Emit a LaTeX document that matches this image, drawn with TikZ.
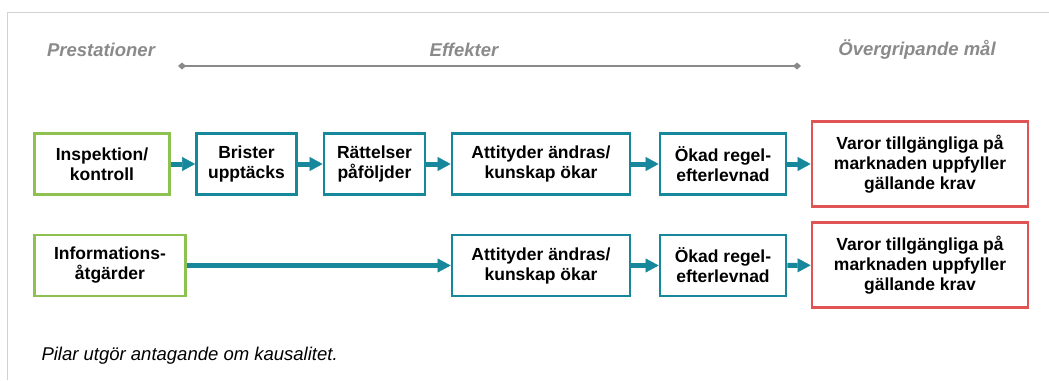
\documentclass[tikz,border=0pt]{standalone}
\usepackage{fontspec}
\setmainfont{Liberation Sans}
\usetikzlibrary{arrows.meta,positioning}

\definecolor{gron}{HTML}{8DC152}
\definecolor{blagron}{HTML}{17889C}
\definecolor{rod}{HTML}{E05454}
\definecolor{gra}{HTML}{8A8A8A}
\definecolor{ram}{HTML}{D2D2D2}

\begin{document}
\begin{tikzpicture}[x=1pt,y=-1pt,thin]
\tikzstyle{ruta}=[draw,line width=2.8pt,fill=white,text=black,font=\bfseries\fontsize{17.5}{20}\selectfont,align=center,inner sep=0pt,minimum height=61pt]
\tikzstyle{prest}=[ruta,draw=gron]
\tikzstyle{effekt}=[ruta,draw=blagron]
\tikzstyle{mal}=[ruta,draw=rod,minimum height=85pt]
\tikzstyle{rubrik}=[text=gra,font=\bfseries\itshape\fontsize{18.5}{21}\selectfont]
\tikzstyle{pil}=[color=blagron,line width=5pt,-{Triangle[length=13pt,width=14pt,line width=0.5pt]}]

\useasboundingbox (0,0) rectangle (1049,380);
\draw[ram,line width=1pt] (7,380) -- (7,12) -- (1049,12);

% rubriker
\node[rubrik]       (P) at (101,50)       {Prestationer};
\node[rubrik]       (Q) at (464,50)       {Effekter};
\node[rubrik]       (R) at (917,50)       {Övergripande mål};
\coordinate         (S) at (178,66);
\coordinate         (T) at (801,66);

% rad 1
\node[prest,minimum width=135pt]        (A) at (102,164)                 {Inspektion/\\kontroll};
\node[effekt,minimum width=100pt]       (B) [right of=A,node distance=144.5pt] {Brister\\upptäcks};
\node[effekt,minimum width=101pt]       (C) [right of=B,node distance=128pt]   {Rättelser\\påföljder};
\node[effekt,minimum width=178pt]       (D) [right of=C,node distance=166.5pt] {Attityder ändras/\\kunskap ökar};
\node[effekt,minimum width=126pt]       (E) [right of=D,node distance=182pt]   {Ökad regel-\\efterlevnad};
\node[mal,minimum width=216pt]          (F) [right of=E,node distance=197pt]   {Varor tillgängliga på\\marknaden uppfyller\\gällande krav};

% rad 2
\node[prest,minimum width=151pt]        (G) at (110,265.5)               {Informations-\\åtgärder};
\node[effekt,minimum width=178pt]       (H) [below of=D,node distance=101.5pt] {Attityder ändras/\\kunskap ökar};
\node[effekt,minimum width=126pt]       (I) [below of=E,node distance=101.5pt] {Ökad regel-\\efterlevnad};
\node[mal,minimum width=216pt]          (J) [below of=F,node distance=101pt]   {Varor tillgängliga på\\marknaden uppfyller\\gällande krav};

\node[anchor=west,font=\itshape\fontsize{18.5}{21}\selectfont] (U) at (38,356) {Pilar utgör antagande om kausalitet.};

\draw[gra,line width=1.2pt,{Diamond[length=8pt,width=7pt]}-{Diamond[length=8pt,width=7pt]}] (S) -- (T);

\path[pil]
(A) edge (B)
(B) edge (C)
(C) edge (D)
(D) edge (E)
(E) edge (F)
(G) edge (H)
(H) edge (I)
(I) edge (J)
;
\end{tikzpicture}
\end{document}
